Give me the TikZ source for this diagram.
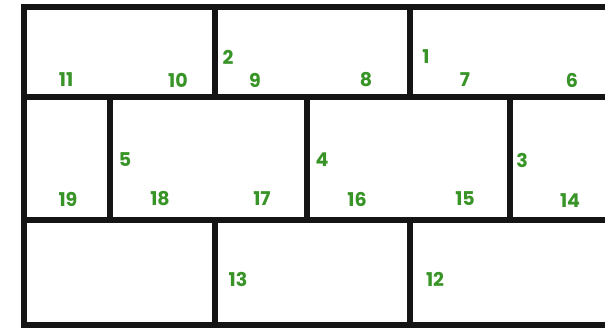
\documentclass[tikz,border=0pt]{standalone}
\usepackage{fontspec}
\newfontfamily\labfont{Poppins}[UprightFont=* Bold]
\definecolor{labgreen}{RGB}{56,148,38}
\tikzset{
  wall/.style={line width=5.5pt, draw=black!92, line cap=rect},
  num/.style={font=\labfont\fontsize{19}{19}\selectfont, text=labgreen, inner sep=0pt, anchor=center}
}
\begin{document}
\begin{tikzpicture}[x=1pt,y=-1pt]
\useasboundingbox (0,0) rectangle (605,329);
\fill[white] (0,0) rectangle (605,329);
% outer frame
\draw[wall, line join=miter, line cap=butt] (612,7) -- (24,7) -- (24,325) -- (612,325);
% row borders
\draw[wall] (24,97) -- (612,97);
\draw[wall] (24,220) -- (612,220);
% row 1 verticals
\draw[wall] (215,7) -- (215,97);
\draw[wall] (410,7) -- (410,97);
% row 2 verticals
\draw[wall] (110,97) -- (110,220);
\draw[wall] (307,97) -- (307,220);
\draw[wall] (510,97) -- (510,220);
% row 3 verticals
\draw[wall] (215,220) -- (215,325);
\draw[wall] (410,220) -- (410,325);
% labels
\node[num] (n11) at (66,80) {11};
\node[num] (n10) at (178,80) {10};
\node[num] (n2) at (228,57) {2};
\node[num] (n9) at (255,80) {9};
\node[num] (n8) at (366,80) {8};
\node[num] (n1) at (426,57) {1};
\node[num] (n7) at (465,80) {7};
\node[num] (n6) at (572,80) {6};
\node[num] (n5) at (125,160) {5};
\node[num] (n19) at (68,199) {19};
\node[num] (n18) at (160,199) {18};
\node[num] (n17) at (262,199) {17};
\node[num] (n4) at (322,160) {4};
\node[num] (n16) at (357,199) {16};
\node[num] (n15) at (465,199) {15};
\node[num] (n3) at (522,160) {3};
\node[num] (n14) at (570,201) {14};
\node[num] (n13) at (238,279) {13};
\node[num] (n12) at (435,279) {12};
\end{tikzpicture}
\end{document}
